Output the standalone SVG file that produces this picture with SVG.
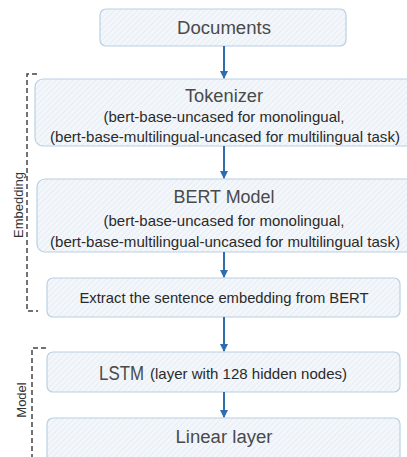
<svg xmlns="http://www.w3.org/2000/svg" width="407" height="457" viewBox="0 0 407 457">
<defs>
<pattern id="hatch" patternUnits="userSpaceOnUse" width="4" height="4" patternTransform="rotate(45)">
<rect width="4" height="4" fill="#f3f7fb"/>
<line x1="0" y1="0" x2="0" y2="4" stroke="#dfe7ef" stroke-width="1.2"/>
</pattern>
<marker id="arr" markerWidth="8" markerHeight="8" refX="7" refY="4" orient="auto" markerUnits="userSpaceOnUse">
<path d="M0,0 L8,4 L0,8 z" fill="#2e6eae"/>
</marker>
</defs>
<style>
.box{fill:url(#hatch);stroke:#b9d0e4;stroke-width:1.2}
.t{font-family:"Liberation Sans",Arial,sans-serif;fill:#4a4a4a;text-anchor:middle}
.big{font-size:18px}
.sm{font-size:14.5px;fill:#2a2a2a}
.conn{stroke:#2e6eae;stroke-width:2;fill:none}
.br{stroke:#444;stroke-width:1.5;fill:none;stroke-dasharray:5,3}
.lab{font-family:"Liberation Sans",Arial,sans-serif;font-size:13px;fill:#333;text-anchor:middle}
</style>
<rect width="407" height="457" fill="#ffffff"/>
<g id="embedding-group">
<path class="br" d="M37,74 H27 V311 H38"/>
<text class="lab" transform="translate(23,205) rotate(-90)">Embedding</text>
</g>
<g id="model-group">
<path class="br" d="M46,348 H32 V457"/>
<text class="lab" transform="translate(26,400) rotate(-90)">Model</text>
</g>
<g id="documents">
<rect class="box" x="100" y="9" width="246" height="37" rx="6"/>
<text class="t big" x="224" y="34" textLength="94" lengthAdjust="spacingAndGlyphs">Documents</text>
</g>
<g id="tokenizer">
<rect class="box" x="35" y="79" width="380" height="67" rx="8"/>
<text class="t big" x="224" y="102" textLength="78" lengthAdjust="spacingAndGlyphs">Tokenizer</text>
<text class="t sm" x="224" y="122" textLength="241" lengthAdjust="spacingAndGlyphs">(bert-base-uncased for monolingual,</text>
<text class="t sm" x="225" y="142" textLength="350" lengthAdjust="spacingAndGlyphs">(bert-base-multilingual-uncased for multilingual task)</text>
</g>
<g id="bert">
<rect class="box" x="37" y="179" width="378" height="73" rx="8"/>
<text class="t big" x="224" y="203" textLength="101" lengthAdjust="spacingAndGlyphs">BERT Model</text>
<text class="t sm" x="224" y="226" textLength="241" lengthAdjust="spacingAndGlyphs">(bert-base-uncased for monolingual,</text>
<text class="t sm" x="225" y="247" textLength="350" lengthAdjust="spacingAndGlyphs">(bert-base-multilingual-uncased for multilingual task)</text>
</g>
<g id="extract">
<rect class="box" x="47" y="278" width="353" height="39" rx="6"/>
<text class="t sm" x="224" y="303" textLength="289" lengthAdjust="spacingAndGlyphs">Extract the sentence embedding from BERT</text>
</g>
<g id="lstm">
<rect class="box" x="47" y="352" width="353" height="40" rx="6"/>
<text class="t" x="99" y="380" style="text-anchor:start;font-size:20px" textLength="45" lengthAdjust="spacingAndGlyphs">LSTM</text>
<text class="t sm" x="150" y="379" style="text-anchor:start" textLength="197" lengthAdjust="spacingAndGlyphs">(layer with 128 hidden nodes)</text>
</g>
<g id="linear">
<rect class="box" x="47" y="418" width="353" height="45" rx="6"/>
<text class="t big" x="224" y="443" textLength="97" lengthAdjust="spacingAndGlyphs">Linear layer</text>
</g>
<g id="connectors">
<line class="conn" x1="224" y1="46" x2="224" y2="78" marker-end="url(#arr)"/>
<line class="conn" x1="224" y1="146" x2="224" y2="178" marker-end="url(#arr)"/>
<line class="conn" x1="224" y1="252" x2="224" y2="277" marker-end="url(#arr)"/>
<line class="conn" x1="224" y1="317" x2="224" y2="351" marker-end="url(#arr)"/>
<line class="conn" x1="224" y1="392" x2="224" y2="417" marker-end="url(#arr)"/>
</g>
</svg>
